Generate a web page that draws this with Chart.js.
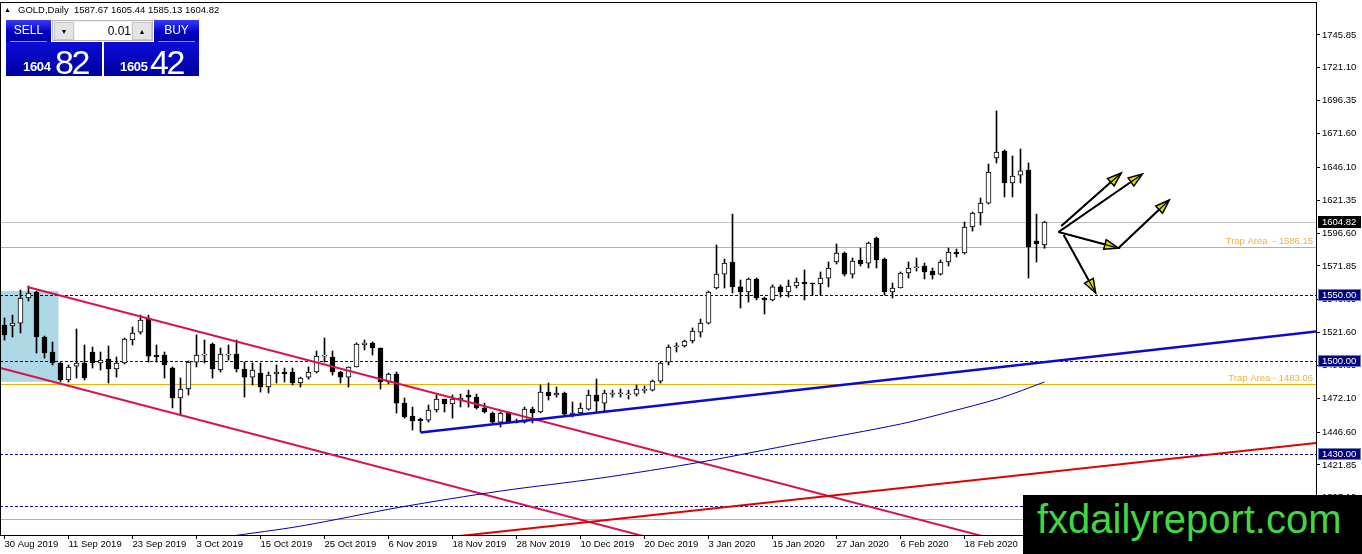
<!DOCTYPE html>
<html><head><meta charset="utf-8">
<script src="https://cdn.jsdelivr.net/npm/chart.js@4.4.1/dist/chart.umd.min.js"></script>
<style>
html,body{margin:0;padding:0;background:#fff;}
#wrap{position:relative;width:1362px;height:554px;overflow:hidden;font-family:"Liberation Sans",Arial,sans-serif;}
#c{position:absolute;left:0;top:0;}
.abs{position:absolute;}
#hdr{left:18px;top:4px;font-size:9.5px;color:#000;white-space:pre;line-height:12px;}
#tri{left:4px;top:5px;font-size:7px;line-height:10px;color:#000;}
.btn{background:linear-gradient(#3b3bff,#0000c8 55%,#0000a8);color:#fff;font-size:12px;text-align:center;line-height:21px;box-sizing:border-box;}
.btn i{position:absolute;left:4px;right:4px;bottom:0;height:1px;background:#8a8aff;}
.px{background:linear-gradient(#0c0cd8,#0000a0);color:#fff;box-sizing:border-box;}
.px .sm{position:absolute;font-size:13px;font-weight:bold;letter-spacing:-0.3px;line-height:13px;}
.px .lg{position:absolute;font-size:34px;letter-spacing:-2.5px;line-height:34px;}
#lot{background:#f0f0f0;border:1px solid #b8b8b8;box-sizing:border-box;}
#lot .ar{position:absolute;top:1px;width:20px;height:18px;background:#e4e4e4;border:1px solid #c8c8c8;box-sizing:border-box;font-size:7px;text-align:center;line-height:17px;color:#000;}
#lot .val{position:absolute;left:22px;top:1px;width:56px;height:18px;background:#fff;font-size:12px;text-align:right;line-height:18px;color:#000;}
#wm{left:1023px;top:495px;width:339px;height:59px;background:#000;}
#wm span{position:absolute;left:14px;top:1px;font-size:40px;line-height:46px;color:#3fd93f;white-space:nowrap;}
</style></head>
<body><div id="wrap">
<canvas id="c" width="1362" height="554"></canvas>
<div id="tri" class="abs">&#9650;</div>
<div id="hdr" class="abs">GOLD,Daily  1587.67 1605.44 1585.13 1604.82</div>
<div class="abs btn" style="left:6px;top:20px;width:45px;height:22px;">SELL<i></i></div>
<div id="lot" class="abs" style="left:52px;top:20px;width:101px;height:21px;">
  <div class="ar" style="left:1px;">&#9660;</div>
  <div class="val">0.01</div>
  <div class="ar" style="left:79px;">&#9650;</div>
</div>
<div class="abs btn" style="left:154px;top:20px;width:45px;height:22px;">BUY<i></i></div>
<div class="abs px" style="left:6px;top:42px;width:96px;height:34px;"><span class="sm" style="left:17px;top:18px;">1604</span><span class="lg" style="left:49px;top:3px;">82</span></div>
<div class="abs px" style="left:104px;top:42px;width:95px;height:34px;"><span class="sm" style="left:16px;top:18px;">1605</span><span class="lg" style="left:46px;top:3px;">42</span></div>
<div id="wm" class="abs"><span>fxdailyreport.com</span></div>
</div>
<script>
// ---- data ----
const opens = [1527.3,1526.6,1528.8,1547.7,1552.2,1518.3,1507.0,1498.7,1485.9,1496.4,
1498.7,1507.0,1498.7,1501.7,1494.2,1498.7,1516.0,1522.0,1531.8,1504.7,
1504.7,1494.9,1472.3,1479.1,1499.4,1504.7,1513.0,1493.4,1504.7,1505.4,
1494.2,1488.1,1491.1,1480.6,1490.4,1491.9,1491.9,1483.6,1488.1,1491.9,
1503.9,1503.2,1491.9,1488.1,1495.7,1512.3,1513.8,1510.0,1484.4,1490.4,
1468.5,1458.7,1456.5,1455.7,1463.3,1471.5,1467.8,1470.8,1474.6,1473.0,
1464.8,1461.0,1454.2,1461.0,1454.2,1454.2,1464.0,1461.8,1476.8,1474.6,
1476.1,1459.5,1461.0,1464.0,1474.6,1468.5,1475.3,1475.7,1474.9,1475.3,
1478.3,1478.3,1485.1,1499.4,1511.1,1511.5,1515.3,1522.0,1528.8,1555.2,
1565.7,1574.8,1556.0,1552.2,1562.0,1547.7,1546.2,1556.0,1552.2,1556.7,
1559.7,1559.0,1558.2,1562.7,1574.8,1581.6,1565.7,1576.3,1574.0,1592.9,
1577.0,1552.2,1555.2,1566.5,1570.7,1571.8,1568.0,1565.7,1574.8,1582.3,
1581.6,1601.2,1611.7,1619.2,1653.2,1658.4,1634.3,1640.3,1644.1,1590.6,1587.67];
const highs = [1532.6,1534.8,1553.7,1556.7,1552.9,1519.0,1514.5,1499.4,1497.2,1524.3,
1512.3,1510.7,1507.0,1511.5,1503.2,1517.5,1525.8,1534.8,1534.8,1512.3,
1507.0,1495.7,1487.4,1500.2,1519.8,1516.0,1513.8,1510.0,1512.3,1516.0,
1499.4,1498.7,1498.7,1491.9,1497.2,1494.9,1494.9,1488.1,1495.7,1507.7,
1517.5,1507.7,1492.4,1495.7,1513.8,1516.0,1514.5,1510.0,1491.1,1491.9,
1472.3,1465.5,1457.2,1467.0,1474.6,1471.5,1474.6,1475.3,1478.3,1475.3,
1468.5,1461.8,1461.8,1461.8,1456.5,1465.5,1465.5,1482.1,1483.6,1480.6,
1476.8,1469.3,1468.5,1478.3,1486.6,1478.3,1478.3,1479.1,1478.3,1482.1,
1481.4,1485.9,1499.4,1512.3,1513.8,1516.0,1525.1,1531.8,1552.9,1587.6,
1577.0,1610.9,1561.2,1562.7,1562.7,1548.4,1557.5,1557.5,1561.2,1562.7,
1568.8,1559.0,1567.3,1574.8,1588.4,1582.3,1577.8,1585.3,1589.9,1593.6,
1577.8,1559.0,1567.3,1574.8,1577.8,1574.0,1570.3,1576.3,1585.3,1584.6,
1604.9,1612.5,1623.0,1648.6,1688.6,1659.2,1654.7,1659.9,1649.4,1610.9,1605.44];
const lows = [1516.0,1518.3,1521.3,1545.4,1506.2,1502.4,1497.2,1484.4,1484.4,1487.4,
1485.9,1494.9,1493.4,1483.6,1488.1,1497.9,1512.3,1520.5,1499.4,1499.4,
1487.4,1464.8,1459.5,1474.6,1495.7,1498.7,1487.4,1491.9,1500.9,1491.9,
1473.0,1482.1,1476.8,1476.1,1483.6,1484.4,1482.1,1480.6,1486.6,1491.1,
1499.4,1489.6,1483.6,1480.6,1495.7,1508.5,1504.7,1479.1,1482.9,1461.0,
1457.2,1448.2,1446.7,1454.2,1461.8,1461.8,1457.2,1465.5,1465.5,1464.0,
1461.0,1453.5,1450.5,1453.5,1453.5,1453.5,1453.5,1461.0,1470.8,1473.0,
1459.5,1458.0,1460.2,1463.3,1461.8,1461.8,1473.0,1473.0,1471.5,1473.8,
1476.1,1477.6,1483.6,1497.2,1507.0,1510.7,1513.8,1518.3,1528.1,1554.4,
1555.2,1551.4,1540.1,1544.6,1546.2,1535.6,1545.4,1548.4,1548.4,1555.2,
1546.2,1549.9,1549.9,1556.0,1573.3,1564.2,1562.7,1571.8,1570.3,1570.3,
1549.9,1547.7,1555.2,1562.7,1568.0,1562.0,1562.0,1565.0,1571.8,1578.6,
1580.8,1598.1,1602.7,1618.5,1649.4,1623.8,1623.8,1634.3,1562.7,1574.8,1585.13];
const closes = [1519.8,1528.8,1547.7,1551.4,1518.3,1506.2,1498.7,1485.9,1495.7,1498.7,
1487.4,1498.7,1500.9,1494.2,1498.7,1516.8,1521.3,1531.1,1503.9,1503.2,
1497.2,1472.3,1479.1,1499.4,1504.7,1505.4,1494.2,1505.4,1505.4,1494.2,
1488.1,1493.4,1480.6,1489.6,1491.9,1490.4,1483.6,1487.4,1491.9,1503.9,
1504.7,1491.9,1488.1,1495.7,1513.0,1513.8,1510.0,1484.4,1490.4,1468.5,
1458.0,1455.0,1455.0,1463.3,1471.5,1467.8,1471.5,1472.3,1473.0,1464.8,
1461.8,1454.2,1461.0,1454.2,1455.0,1464.0,1461.0,1476.8,1473.8,1476.1,
1460.2,1461.0,1464.8,1474.6,1470.0,1476.1,1476.1,1476.1,1475.3,1479.1,
1478.7,1485.1,1498.7,1510.7,1511.5,1515.3,1522.8,1528.8,1552.2,1565.7,
1574.0,1556.0,1552.2,1562.0,1547.7,1546.2,1556.0,1552.2,1556.7,1559.7,
1558.2,1558.2,1562.7,1570.3,1581.6,1565.7,1575.5,1573.3,1589.1,1576.3,
1552.2,1555.2,1566.5,1570.3,1571.0,1567.3,1565.0,1574.8,1582.3,1580.8,
1601.2,1611.7,1619.2,1642.6,1657.7,1634.3,1639.6,1643.4,1586.1,1588.4,1604.82];

const dateLabels = ['30 Aug 2019','11 Sep 2019','23 Sep 2019','3 Oct 2019','15 Oct 2019','25 Oct 2019','6 Nov 2019','18 Nov 2019','28 Nov 2019','10 Dec 2019','20 Dec 2019','3 Jan 2020','15 Jan 2020','27 Jan 2020','6 Feb 2020','18 Feb 2020'];
const dateIdx = [0,8,16,24,32,40,48,56,64,72,80,88,96,104,112,120];
const yTicks = [1745.85,1721.10,1696.35,1671.60,1646.10,1621.35,1596.60,1571.85,1546.35,1521.60,1496.85,1472.10,1446.60,1421.85,1397.10];

const maIdx = [28,37,49.5,62,74.5,87,99.5,112,118,124.5,130];
const maVal = [1368,1375.8,1390.1,1402.2,1412.0,1424.0,1438.4,1452.7,1461.7,1472.3,1484.4];

const blueTrend = [[52,1446.3],[164,1522.4]];
const redRise = [[55.75,1367.6],[164,1438.4]];
const chanUpper = [[2.875,1556.0],[127.5,1360]];
const chanLower = [[-0.5,1494.9],[85.1,1360]];

const dashedLevels = [1550,1500,1430,1391];
const trapLevels = [1586.15,1483.06,1381.5];
const trapTexts = ['Trap Area  - 1586.15','Trap Area - 1483.06',''];
const lastPrice = 1604.82;
const tagLevels = [1550,1500,1430];
const boxX = [-0.5,6.75], boxY = [1484.5,1552.9];
const arrows = [
  [[132.1,1601.9],[139.6,1641.9]],
  [[131.75,1597.4],[142.25,1641.1]],
  [[131.75,1597.4],[139.25,1585.3]],
  [[139.25,1585.3],[145.6,1621.5]],
  [[132.4,1595.1],[136.4,1551.4]]
];

// ---- build datasets ----
const wickData = highs.map((h,i)=>({x:i,y:[lows[i],h]}));
const bodyData = opens.map((o,i)=>{
  let lo=Math.min(o,closes[i]), hi=Math.max(o,closes[i]);
  if(hi-lo<0.8){const m=(hi+lo)/2; lo=m-0.4; hi=m+0.4;}
  return {x:i,y:[lo,hi]};
});
const bodyColors = opens.map((o,i)=> closes[i]>=o ? '#ffffff' : '#000000');
const seg = (arr)=>arr.map(p=>({x:p[0],y:p[1]}));
const FONT = "'Liberation Sans', Arial, sans-serif";

function arrow(ctx,x1,y1,x2,y2){
  const a=Math.atan2(y2-y1,x2-x1), L=14, W=5;
  const bx=x2-L*Math.cos(a), by=y2-L*Math.sin(a);
  ctx.strokeStyle='#000'; ctx.lineWidth=2;
  ctx.beginPath(); ctx.moveTo(x1,y1); ctx.lineTo(x2-4*Math.cos(a),y2-4*Math.sin(a)); ctx.stroke();
  ctx.beginPath(); ctx.moveTo(x2,y2);
  ctx.lineTo(bx+W*Math.sin(a),by-W*Math.cos(a));
  ctx.lineTo(bx-W*Math.sin(a),by+W*Math.cos(a)); ctx.closePath();
  ctx.fillStyle='#d8dc00'; ctx.fill(); ctx.lineWidth=1.5; ctx.stroke();
  ctx.beginPath(); ctx.moveTo(x1,y1); ctx.lineTo(x2,y2); ctx.lineWidth=1.2; ctx.stroke();
}

const overlay = {
  id:'overlay',
  beforeDatasetsDraw(chart){
    const {ctx, chartArea:a, scales:{x,y}} = chart;
    ctx.save();
    ctx.beginPath(); ctx.rect(a.left,a.top,a.right-a.left,a.bottom-a.top); ctx.clip();
    ctx.fillStyle='#add8e6';
    const rx0=Math.max(a.left,x.getPixelForValue(boxX[0])), rx1=x.getPixelForValue(boxX[1]);
    const ry0=y.getPixelForValue(boxY[1]), ry1=y.getPixelForValue(boxY[0]);
    ctx.fillRect(rx0,ry0,rx1-rx0,ry1-ry0);
    ctx.lineWidth=1;
    // last price line
    let py=Math.round(y.getPixelForValue(lastPrice))+0.5;
    ctx.strokeStyle='#c0c0c0'; ctx.beginPath(); ctx.moveTo(a.left,py); ctx.lineTo(a.right,py); ctx.stroke();
    // trap lines
    ctx.strokeStyle='#f0b000';
    trapLevels.forEach(v=>{const yy=Math.round(y.getPixelForValue(v))+0.5; ctx.beginPath(); ctx.moveTo(a.left,yy); ctx.lineTo(a.right,yy); ctx.stroke();});
    // dashed levels
    ctx.strokeStyle='#000080'; ctx.setLineDash([3,2]);
    dashedLevels.forEach(v=>{const yy=Math.round(y.getPixelForValue(v))+0.5; ctx.beginPath(); ctx.moveTo(a.left,yy); ctx.lineTo(a.right,yy); ctx.stroke();});
    ctx.setLineDash([]);
    // trap labels
    ctx.fillStyle='#f0b040'; ctx.font="9.5px "+FONT; ctx.textAlign='right'; ctx.textBaseline='bottom';
    trapLevels.forEach((v,i)=>{ if(trapTexts[i]) ctx.fillText(trapTexts[i], a.right-3, Math.round(y.getPixelForValue(v))-1); });
    ctx.restore();
  },
  afterDatasetsDraw(chart){
    const {ctx, chartArea:a, scales:{x,y}} = chart;
    ctx.save();
    ctx.beginPath(); ctx.rect(a.left,a.top,a.right-a.left,a.bottom-a.top); ctx.clip();
    arrows.forEach(ar=>arrow(ctx,x.getPixelForValue(ar[0][0]),y.getPixelForValue(ar[0][1]),x.getPixelForValue(ar[1][0]),y.getPixelForValue(ar[1][1])));
    ctx.restore();
  },
  afterDraw(chart){
    const {ctx, chartArea:a, scales:{y}} = chart;
    ctx.save();
    ctx.strokeStyle='#000'; ctx.lineWidth=1;
    ctx.strokeRect(a.left+0.5,a.top+0.5,a.right-a.left,a.bottom-a.top);
    ctx.font="9.5px "+FONT; ctx.textBaseline='middle'; ctx.textAlign='left';
    const tag=(v,bg)=>{
      const yy=Math.round(y.getPixelForValue(v));
      ctx.fillStyle=bg; ctx.fillRect(a.right+2,yy-6,43,12);
      if(bg!=='#000'){ctx.strokeStyle='#6f7fbf'; ctx.strokeRect(a.right+2.5,yy-5.5,42,11);}
      ctx.fillStyle='#fff'; ctx.fillText(v.toFixed(2), a.right+6, yy+0.5);
    };
    tag(lastPrice,'#000');
    tagLevels.forEach(v=>tag(v,'#00007c'));
    ctx.restore();
  }
};

new Chart(document.getElementById('c'), {
  type:'bar',
  data:{datasets:[
    {type:'line',data:maIdx.map((v,i)=>({x:v,y:maVal[i]})),borderColor:'#0000a8',borderWidth:1,pointRadius:0,tension:0.3,order:0},
    {type:'line',data:seg(blueTrend),borderColor:'#0a0ad0',borderWidth:2.5,pointRadius:0,order:0},
    {type:'line',data:seg(redRise),borderColor:'#e00000',borderWidth:2,pointRadius:0,order:0},
    {type:'line',data:seg(chanUpper),borderColor:'#d8144a',borderWidth:2,pointRadius:0,order:0},
    {type:'line',data:seg(chanLower),borderColor:'#d8144a',borderWidth:2,pointRadius:0,order:0},
    {data:bodyData,backgroundColor:bodyColors,borderColor:'#000',borderWidth:1,borderSkipped:false,barThickness:5,grouped:false,order:1},
    {data:wickData,backgroundColor:'#000',borderWidth:0,barThickness:1,grouped:false,order:2}
  ]},
  options:{
    responsive:false, animation:false, devicePixelRatio:1,
    layout:{padding:{left:0,top:2,right:0,bottom:0}},
    plugins:{legend:{display:false},tooltip:{enabled:false}},
    scales:{
      x:{type:'linear',offset:false,min:-0.5625,max:163.9375,
        afterFit:s=>{s.height=19; s.paddingLeft=0; s.paddingRight=0;},
        afterBuildTicks:s=>{s.ticks=dateIdx.map(v=>({value:v}));},
        grid:{drawOnChartArea:false,drawTicks:true,tickLength:4,color:'#000',offset:false},
        border:{display:false},
        ticks:{autoSkip:false,maxRotation:0,align:'start',padding:0,color:'#000',font:{family:FONT,size:9.5},
          callback:(v,i)=>dateLabels[i]}
      },
      y:{type:'linear',position:'right',min:1369.1,max:1770.7,
        afterFit:s=>{s.width=46; s.paddingTop=0; s.paddingBottom=0;},
        afterBuildTicks:s=>{s.ticks=yTicks.map(v=>({value:v}));},
        grid:{drawOnChartArea:false,drawTicks:true,tickLength:4,color:'#000'},
        border:{display:false},
        ticks:{padding:2,color:'#000',font:{family:FONT,size:9.5},callback:v=>Number(v).toFixed(2)}
      }
    }
  },
  plugins:[overlay]
});
</script>
</body></html>
